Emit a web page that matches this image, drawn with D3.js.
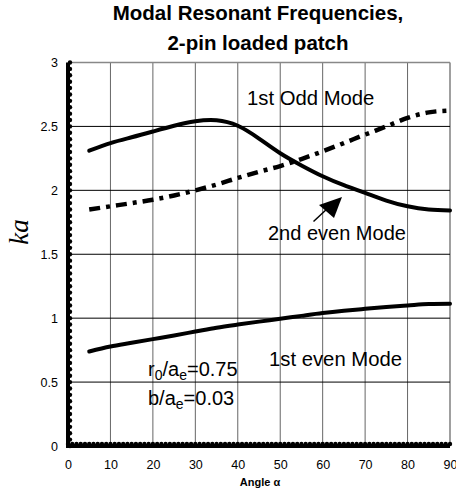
<!DOCTYPE html>
<html><head><meta charset="utf-8">
<script src="https://cdn.jsdelivr.net/npm/d3@7"></script>
<style>body{margin:0;background:#fff}svg{display:block}</style>
</head><body>
<svg id="c" width="456" height="493"></svg>
<script>
const angles = [5,10,15,20,25,30,35,40,45,50,55,60,65,70,75,80,85,90];
const odd1 = [2.31,2.37,2.415,2.46,2.505,2.54,2.548,2.505,2.405,2.29,2.195,2.11,2.04,1.98,1.92,1.875,1.85,1.843];
const even2 = [1.85,1.875,1.90,1.927,1.96,2.0,2.045,2.097,2.145,2.19,2.245,2.305,2.37,2.436,2.50,2.567,2.61,2.624];
const even1 = [0.739,0.778,0.807,0.836,0.865,0.895,0.925,0.95,0.973,0.995,1.018,1.04,1.058,1.073,1.087,1.099,1.11,1.112];
const xTicks = [0,10,20,30,40,50,60,70,80,90];
const yTicks = [0,0.5,1,1.5,2,2.5,3];
const yTickLabels = ["0","0.5","1","1.5","2","2.5","3"];

const svg = d3.select("#c");
const font = "'Liberation Sans', Arial, sans-serif";
const x = d3.scaleLinear().domain([0,90]).range([68,450]);
const y = d3.scaleLinear().domain([0,3]).range([446,62.5]);

// grid
svg.append("g").selectAll("line").data(xTicks.filter(d=>d>0)).join("line")
  .attr("x1",d=>x(d)).attr("x2",d=>x(d)).attr("y1",y(3)).attr("y2",y(0))
  .attr("stroke",d=>d===90?"#888":"#666").attr("stroke-width",d=>d===90?1.6:1);
svg.append("g").selectAll("line").data(yTicks.filter(d=>d>0)).join("line")
  .attr("x1",x(0)).attr("x2",x(90)).attr("y1",d=>y(d)).attr("y2",d=>y(d))
  .attr("stroke",d=>d===3?"#888":"#000").attr("stroke-width",d=>d===3?1.6:1);

// axes with d3
const yAxis = d3.axisLeft(y).tickValues(yTicks).tickFormat((d,i)=>yTickLabels[i]).tickSize(0).tickPadding(10);
const ga = svg.append("g").attr("transform",`translate(${x(0)},0)`).call(yAxis);
ga.select(".domain").remove();
ga.selectAll("text").attr("font-family",font).attr("font-size",12.5).attr("fill","#000");
const xAxis = d3.axisBottom(x).tickValues(xTicks).tickSize(0).tickPadding(14);
const gb = svg.append("g").attr("transform",`translate(0,${y(0)})`).call(xAxis);
gb.select(".domain").remove();
gb.selectAll("text").attr("font-family",font).attr("font-size",12.5).attr("fill","#000");

// thick beaded axis lines
svg.append("line").attr("x1",x(0)).attr("x2",x(0)).attr("y1",y(3)).attr("y2",y(0)+2)
  .attr("stroke","#000").attr("stroke-width",4);
svg.append("line").attr("x1",x(0)-2).attr("x2",x(90)).attr("y1",y(0)).attr("y2",y(0))
  .attr("stroke","#000").attr("stroke-width",4);
svg.append("g").selectAll("circle").data(d3.range(0,61).map(i=>i*0.05)).join("circle")
  .attr("cx",x(0)+2).attr("cy",d=>y(d)).attr("r",2.2).attr("fill","#000");
svg.append("g").selectAll("circle").data(d3.range(0,91)).join("circle")
  .attr("cx",d=>x(d)).attr("cy",y(0)-2).attr("r",2.2).attr("fill","#000");

// curves
const mk = arr => angles.map((a,i)=>[a,arr[i]]);
const lineN = d3.line().x(d=>x(d[0])).y(d=>y(d[1])).curve(d3.curveNatural);
const lineM = d3.line().x(d=>x(d[0])).y(d=>y(d[1])).curve(d3.curveMonotoneX);
svg.append("path").attr("d",lineN(mk(odd1))).attr("fill","none").attr("stroke","#000")
  .attr("stroke-width",4).attr("stroke-linecap","round");
svg.append("path").attr("d",lineM(mk(even1))).attr("fill","none").attr("stroke","#000")
  .attr("stroke-width",4).attr("stroke-linecap","round");
svg.append("path").attr("d",lineM(mk(even2))).attr("fill","none").attr("stroke","#000")
  .attr("stroke-width",4.5).attr("stroke-dasharray","11,6,4,6");

// arrow
svg.append("line").attr("x1",313.5).attr("y1",221.5).attr("x2",328).attr("y2",208)
  .attr("stroke","#000").attr("stroke-width",1.5);
svg.append("path").attr("d","M342,197 L319,205 L334,218 Z").attr("fill","#000");

// annotations
const T = (t,xp,yp,sz,anchor)=>svg.append("text").attr("x",xp).attr("y",yp)
  .attr("font-family",font).attr("font-size",sz).attr("text-anchor",anchor||"start").text(t);
T("1st Odd Mode",247,105,20.3);
T("2nd even Mode",268,240,20);
T("1st even Mode",269,366,20.3);
const r = svg.append("text").attr("x",148).attr("y",376).attr("font-family",font).attr("font-size",20);
r.append("tspan").text("r");
r.append("tspan").attr("font-size",14).attr("dy",4).text("0");
r.append("tspan").attr("dy",-4).text("/a");
r.append("tspan").attr("font-size",14).attr("dy",4).text("e");
r.append("tspan").attr("dy",-4).text("=0.75");
const b = svg.append("text").attr("x",148).attr("y",405).attr("font-family",font).attr("font-size",20);
b.append("tspan").text("b/a");
b.append("tspan").attr("font-size",14).attr("dy",4).text("e");
b.append("tspan").attr("dy",-4).text("=0.03");

// titles
T("Modal Resonant Frequencies,",258,20,20.5,"middle").attr("font-weight","bold");
T("2-pin loaded patch",258,50,20.5,"middle").attr("font-weight","bold");
svg.append("text").attr("x",260).attr("y",486).attr("font-family",font).attr("font-size",11)
  .attr("font-weight","bold").attr("text-anchor","middle").text("Angle α");
svg.append("text").attr("transform","translate(28,232) rotate(-90)").attr("text-anchor","middle")
  .attr("font-family","'Liberation Serif','Times New Roman',serif").attr("font-style","italic")
  .attr("font-size",27).text("ka");
</script>
</body></html>
